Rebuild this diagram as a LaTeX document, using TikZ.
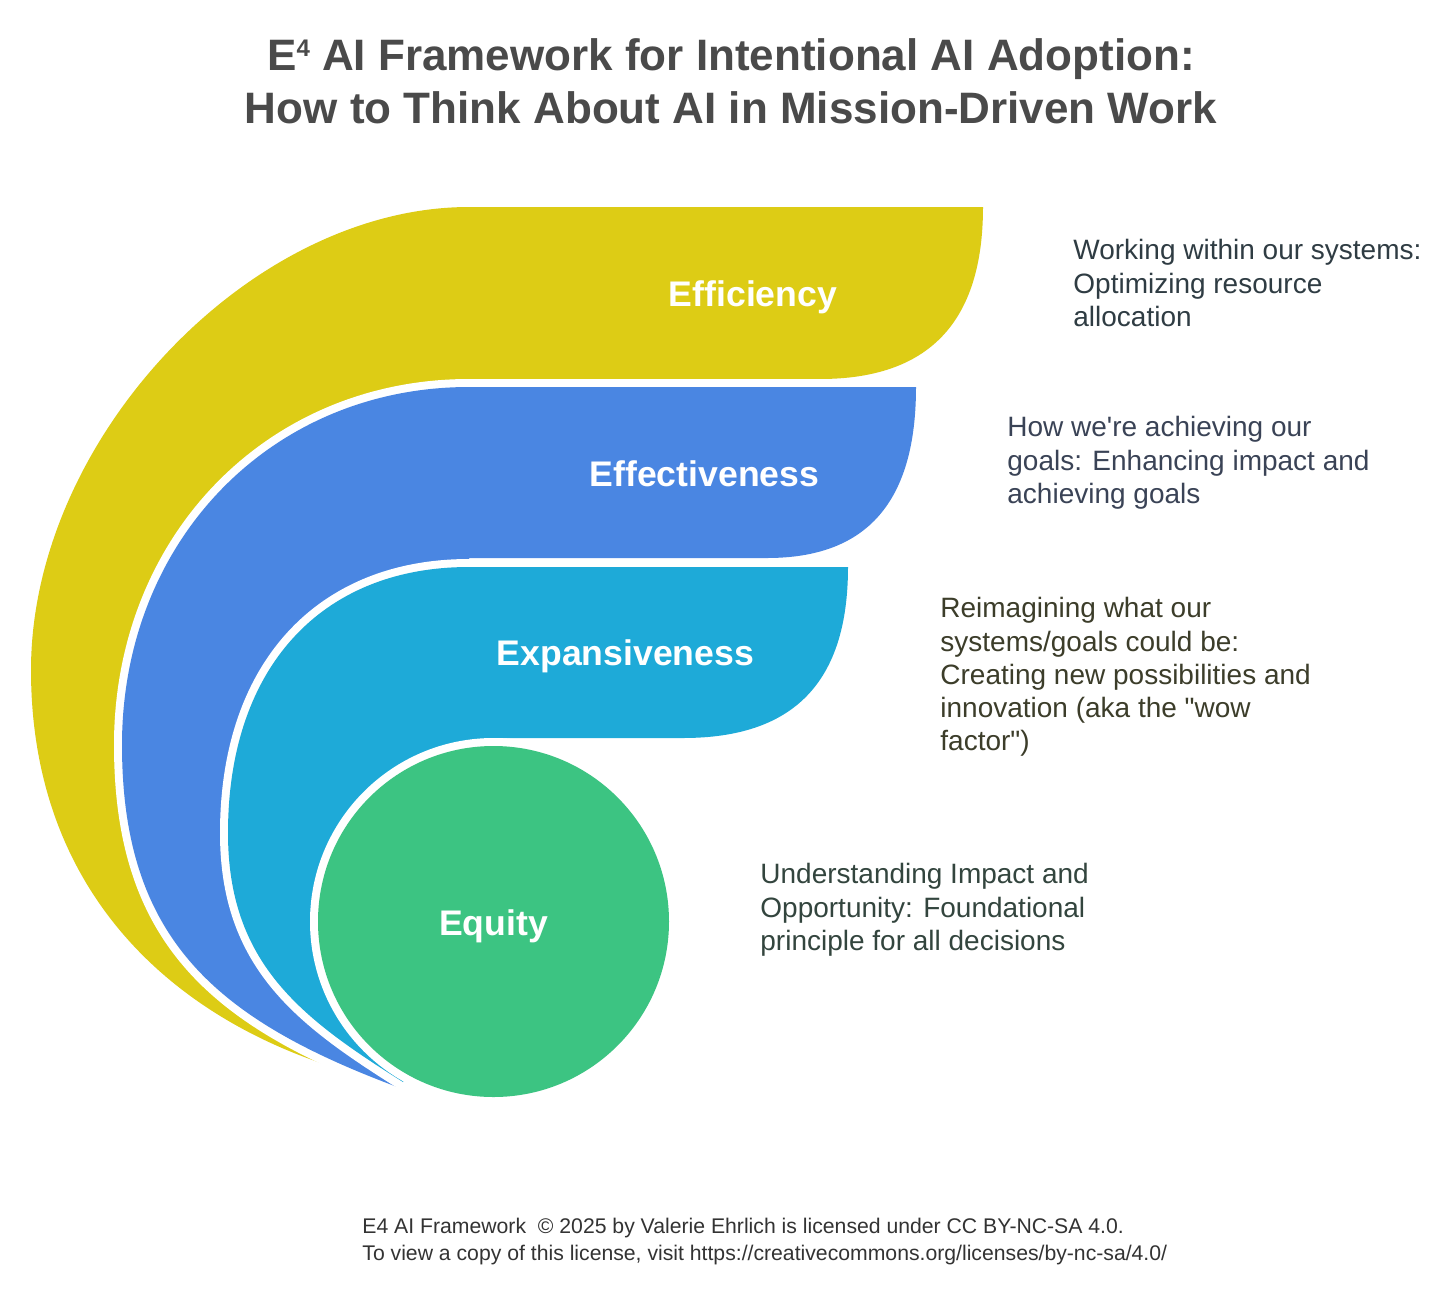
\documentclass[tikz,border=0pt]{standalone}
\usepackage{fontspec}
\setmainfont{Liberation Sans}
\definecolor{ycol}{HTML}{DDCC15}
\definecolor{bcol}{HTML}{4A86E2}
\definecolor{tcol}{HTML}{1EAAD8}
\definecolor{gcol}{HTML}{3CC482}
\definecolor{titlecol}{HTML}{4A4A4A}
\definecolor{txtA}{HTML}{2F3C43}
\definecolor{txtB}{HTML}{3A4356}
\definecolor{txtC}{HTML}{3C3D2A}
\definecolor{txtD}{HTML}{33453E}
\definecolor{footcol}{HTML}{333333}
\begin{document}
\begin{tikzpicture}[x=0.5pt,y=-0.5pt,
  halo/.style={preaction={draw=white,line width=8pt,line join=round}},
  lab/.style={text=white,font=\fontsize{17.8}{21}\selectfont\bfseries,anchor=base,inner sep=0pt},
  desc/.style={anchor=north west,inner sep=0pt,align=left,font=\fontsize{14}{16.65}\selectfont}]
\useasboundingbox (0,0) rectangle (1456,1291);
\fill[white] (0,0) rectangle (1456,1291);

% Efficiency band
\fill[ycol] (469,207) -- (983,207) .. controls (983,322) and (929,379) .. (820,379)
  -- (469,379) -- (420,450) -- (300,700) -- (300,950) -- (330,1066) -- (318,1062)
  .. controls (158,1006) and (31,880) .. (31,670)
  .. controls (31,439) and (250,207) .. (469,207) -- cycle;

% Effectiveness band
\fill[bcol,halo] (469,387) -- (916,387) .. controls (916,502) and (867,558) .. (767,558)
  -- (469,558) -- (469,580) -- (430,800) -- (430,1000) -- (400,1088)
  .. controls (217,1020) and (122,940) .. (122,745)
  .. controls (122,541) and (271,387) .. (469,387) -- cycle;

% Expansiveness band
\fill[tcol,halo] (469,567) -- (848,567) .. controls (848,682) and (794,738) .. (683,738)
  -- (493,738) -- (493,921) -- (403,1082)
  .. controls (301,1018) and (228,963) .. (228,833)
  .. controls (228,669) and (320,567) .. (469,567) -- cycle;

% Equity circle
\fill[gcol,halo] (493.5,921.5) circle[radius=175.5];

\node[lab] (eff) at (753,306.5) {Efficiency};
\node[lab] (efv) at (704.5,486) {Effectiveness};
\node[lab] (exp) at (625.5,665) {Expansiveness};
\node[lab] (equ) at (493.5,935) {Equity};

\node[desc,text=txtA] (dA) at (1073,236) {\strut Working within our systems:\\Optimizing resource\\allocation};
\node[desc,text=txtB] (dB) at (1007,413) {\strut How we\textquotesingle re achieving our\\goals: Enhancing impact and\\achieving goals};
\node[desc,text=txtC] (dC) at (940,594) {\strut Reimagining what our\\systems/goals could be:\\Creating new possibilities and\\innovation (aka the \textquotedbl wow\\factor\textquotedbl)};
\node[desc,text=txtD] (dD) at (760,860) {\strut Understanding Impact and\\Opportunity: Foundational\\principle for all decisions};

\node[anchor=north,inner sep=0pt,align=center,text=titlecol,font=\fontsize{22}{26.5}\selectfont\bfseries] (title) at (731,33) {\strut E\raisebox{7pt}{\fontsize{12}{12}\selectfont 4} AI Framework for Intentional AI Adoption:\\How to Think About AI in Mission-Driven Work};

\node[anchor=north west,inner sep=0pt,align=left,text=footcol,font=\fontsize{10.6}{13.5}\selectfont] (foot) at (362,1214) {\strut E4 AI Framework\ \ \textcopyright\ 2025 by Valerie Ehrlich is licensed under CC BY-NC-SA 4.0.\\To view a copy of this license, visit https://creativecommons.org/licenses/by-nc-sa/4.0/};
\end{tikzpicture}
\end{document}
